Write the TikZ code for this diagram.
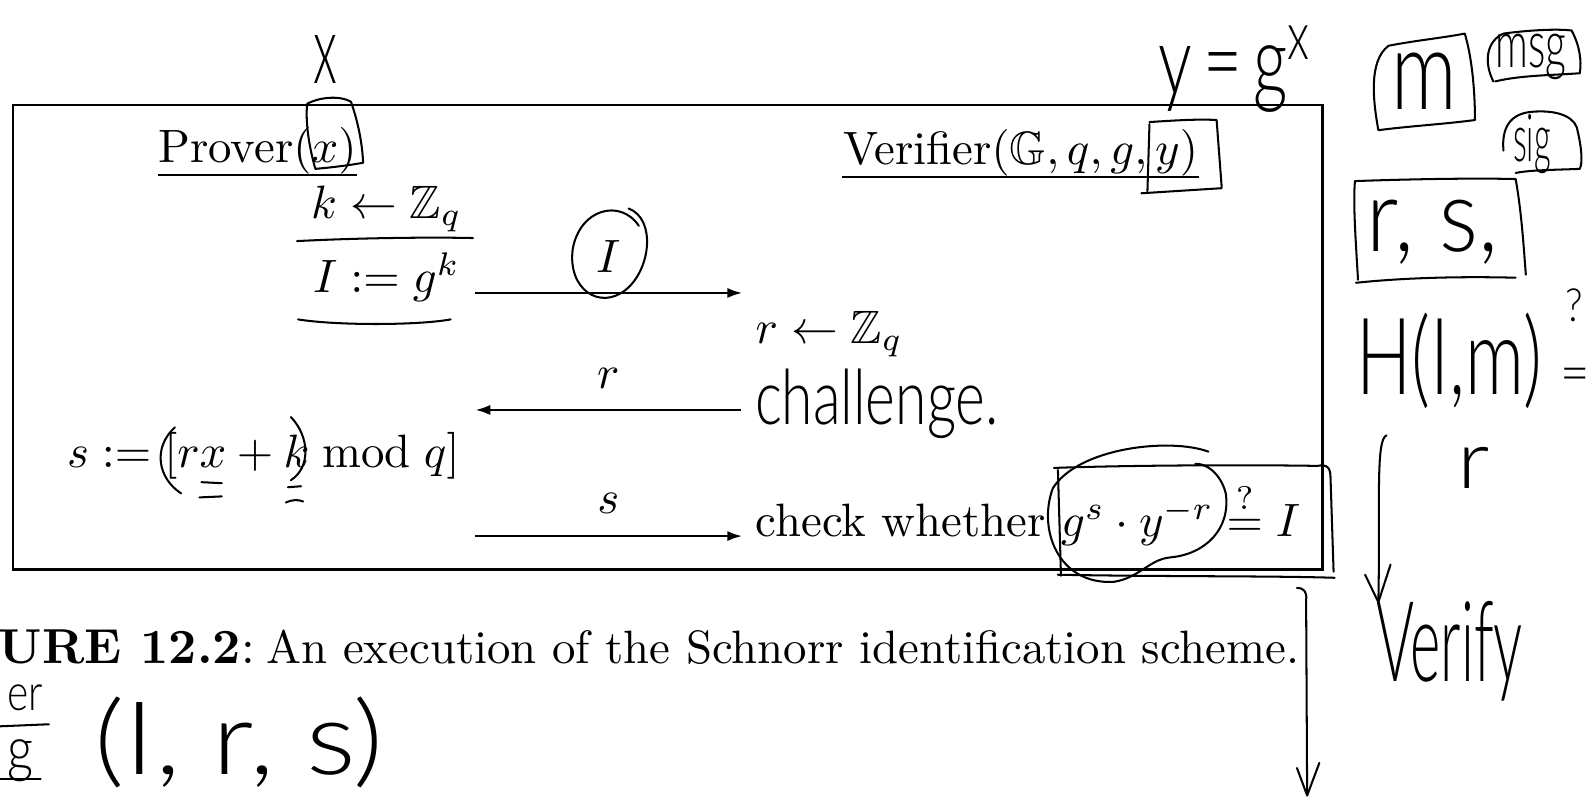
\documentclass[tikz,border=0pt]{standalone}
\usepackage{amssymb}
\usepackage{amsmath}
\usepackage{fontspec}
\newfontfamily\handfont{Lato Light}
\usetikzlibrary{arrows.meta,calc}
\begin{document}
\begin{tikzpicture}[x=1pt,y=-1pt,
  printed/.style={inner sep=0pt,scale=4.6,anchor=base west},
  lbl/.style={inner sep=0pt,scale=4.6,anchor=base},
  hand/.style={inner sep=0pt,font=\handfont},
  ink/.style={line width=2pt,line cap=round,line join=round},
  msgarrow/.style={line width=2.7pt,-{Latex[length=15pt,width=10pt]}},
  frame/.style={line width=2.4pt}]
\useasboundingbox (0,0) rectangle (1568,785);
\fill[white] (0,0) rectangle (1568,785);
% printed frame
\draw[frame] (13,103) rectangle (1300,560);
% printed texts
\node[printed] (prover) at (155,160) {Prover$(x)$};
\node[printed] (verifier) at (828,162) {Verifier$(\mathbb{G},q,g,y)$};
\draw[line width=2pt] (prover.south west) -- (prover.south east);
\draw[line width=2pt] (verifier.south west) -- (verifier.south east);
\node[printed] (kz) at (305,215) {$k\leftarrow\mathbb{Z}_q$};
\node[printed] (ig) at (307,288) {$I:=g^k$};
\node[printed] (rz) at (742,338) {$r\leftarrow\mathbb{Z}_q$};
\node[printed] (sdef) at (65,460) {$s:=[rx+k \bmod q]$};
\node[printed] (check) at (742,527) {check whether $g^s\cdot y^{-r}\stackrel{?}{=}I$};
\node[printed] (cap) at (-2,652) {{\fontsize{10.5}{13}\selectfont\textbf{URE 12.2}:}\hspace{2.5pt}An execution of the Schnorr identification scheme.};
% messages
\coordinate (pI) at (467,288); \coordinate (vI) at (730,288);
\coordinate (vr) at (728,403); \coordinate (pr) at (467,403);
\coordinate (ps) at (467,527); \coordinate (vs) at (730,527);
\draw[msgarrow] (pI) -- (vI);
\draw[msgarrow] (vr) -- (pr);
\draw[msgarrow] (ps) -- (vs);
\node[lbl] (lI) at (598,268) {$I$};
\node[lbl] (lr) at (598,382) {$r$};
\node[lbl] (ls) at (598,505) {$s$};
% ---- handwriting ----
\node[hand,xscale=5,yscale=9.5] (hx) at (320,58) {x};
\node[hand,xscale=6.6,yscale=9.5] (hy) at (1215,68) {y\,=\,g\textsuperscript{x}};
\node[hand,xscale=8,yscale=11] (hm) at (1400,80) {m};
\node[hand,xscale=4,yscale=6.5] (hmsg) at (1505,56) {msg};
\node[hand,xscale=3.2,yscale=6.5] (hsig) at (1506,142) {sig};
\node[hand,xscale=9,yscale=10] (hrs) at (1408,228) {r, s,};
\node[hand,xscale=7.2,yscale=10.5] (hH) at (1425,355) {H(I,m)};
\node[hand,xscale=4,yscale=4.5] (hq) at (1548,300) {?};
\node[hand,xscale=5,yscale=5.5] (heq) at (1549,374) {=};
\node[hand,xscale=9,yscale=8] (hr2) at (1449,460) {r};
\node[hand,xscale=5.7,yscale=11] (hver) at (1425,640) {Verify};
\node[hand,xscale=5.6,yscale=7.5] (hch) at (862,397) {challenge.};
\node[hand,xscale=11.5,yscale=10] (hirs) at (235,730) {(I, r, s)};
\node[hand,xscale=4,yscale=5] (her) at (25,686) {er};
\node[hand,xscale=5,yscale=6] (hg) at (20,748) {g};
\draw[ink] (0,714) -- (48,712);
\draw[ink] (0,766) -- (40,766);
% box around x in Prover(x)
\draw[ink] (302,102) .. controls (315,95) and (335,94) .. (345,100)
  .. controls (352,120) and (356,140) .. (357,160)
  .. controls (340,163) and (322,165) .. (310,166)
  .. controls (304,145) and (300,120) .. (302,102);
% box around y in Verifier
\draw[ink] (1130,122) -- (1128,188);
\draw[ink] (1130,120) .. controls (1160,118) and (1180,117) .. (1196,118) -- (1201,184);
\draw[ink] (1122,190) -- (1201,185);
% line between k<-Zq and I:=g^k, curved underline
\draw[ink] (292,237) .. controls (350,234) and (420,233) .. (465,234);
\draw[ink] (293,314) .. controls (330,320) and (410,320) .. (443,314);
% circle around I label
\draw[ink] (628,222) .. controls (610,195) and (570,205) .. (563,245)
  .. controls (558,285) and (590,305) .. (615,285)
  .. controls (640,265) and (645,215) .. (618,205);
% parens in s definition
\draw[ink] (172,420) .. controls (150,440) and (155,470) .. (178,485);
\draw[ink] (286,410) .. controls (305,430) and (305,460) .. (286,472);
\draw[ink] (198,474) -- (218,475);
\draw[ink] (196,489) -- (218,488);
\draw[ink] (283,479) -- (296,478);
\draw[ink] (281,494) .. controls (288,491) and (293,491) .. (298,493);
% box and circle around g^s y^-r ?= I
\draw[ink] (1040,462) -- (1043,566);
\draw[ink] (1036,460) .. controls (1120,457) and (1240,457) .. (1295,458)
  .. controls (1305,456) and (1308,460) .. (1308,470) -- (1311,562);
\draw[ink] (1040,565) .. controls (1150,567) and (1250,566) .. (1312,568);
\draw[ink] (1188,444) .. controls (1150,430) and (1060,440) .. (1035,480)
  .. controls (1020,520) and (1040,575) .. (1095,572)
  .. controls (1120,568) and (1130,550) .. (1150,548)
  .. controls (1185,545) and (1210,520) .. (1205,485)
  .. controls (1200,465) and (1185,455) .. (1175,456);
% hand boxes on the right
\draw[ink] (1355,128) .. controls (1350,100) and (1345,60) .. (1365,45)
  .. controls (1390,40) and (1420,37) .. (1440,33)
  .. controls (1448,60) and (1450,95) .. (1450,118)
  .. controls (1420,122) and (1385,124) .. (1355,128);
\draw[ink] (1468,80) .. controls (1458,60) and (1462,40) .. (1478,33)
  .. controls (1500,30) and (1530,28) .. (1545,30)
  .. controls (1553,45) and (1555,60) .. (1553,72)
  .. controls (1525,74) and (1495,74) .. (1470,80);
\draw[ink] (1478,148) .. controls (1476,125) and (1485,112) .. (1505,110)
  .. controls (1525,108) and (1545,112) .. (1550,125)
  .. controls (1555,145) and (1556,160) .. (1553,166)
  .. controls (1530,167) and (1505,167) .. (1490,170);
\draw[ink] (1335,275) .. controls (1333,240) and (1330,200) .. (1332,178)
  .. controls (1390,176) and (1450,175) .. (1490,176)
  .. controls (1496,210) and (1498,245) .. (1500,270);
\draw[ink] (1333,278) .. controls (1390,272) and (1450,272) .. (1490,273);
% arrow from H(I,m) to Verify
\coordinate (a1s) at (1363,428); \coordinate (a1e) at (1355,592);
\draw[ink] (a1s) .. controls (1352,432) and (1357,500) .. (a1e);
\draw[ink] (1342,565) -- (a1e) -- (1367,555);
% long arrow at the caption end
\coordinate (a2s) at (1275,578); \coordinate (a2e) at (1285,782);
\draw[ink] (a2s) .. controls (1282,578) and (1285,582) .. (1284,590) -- (a2e);
\draw[ink] (1275,755) -- (a2e) -- (1297,750);
\end{tikzpicture}
\end{document}
